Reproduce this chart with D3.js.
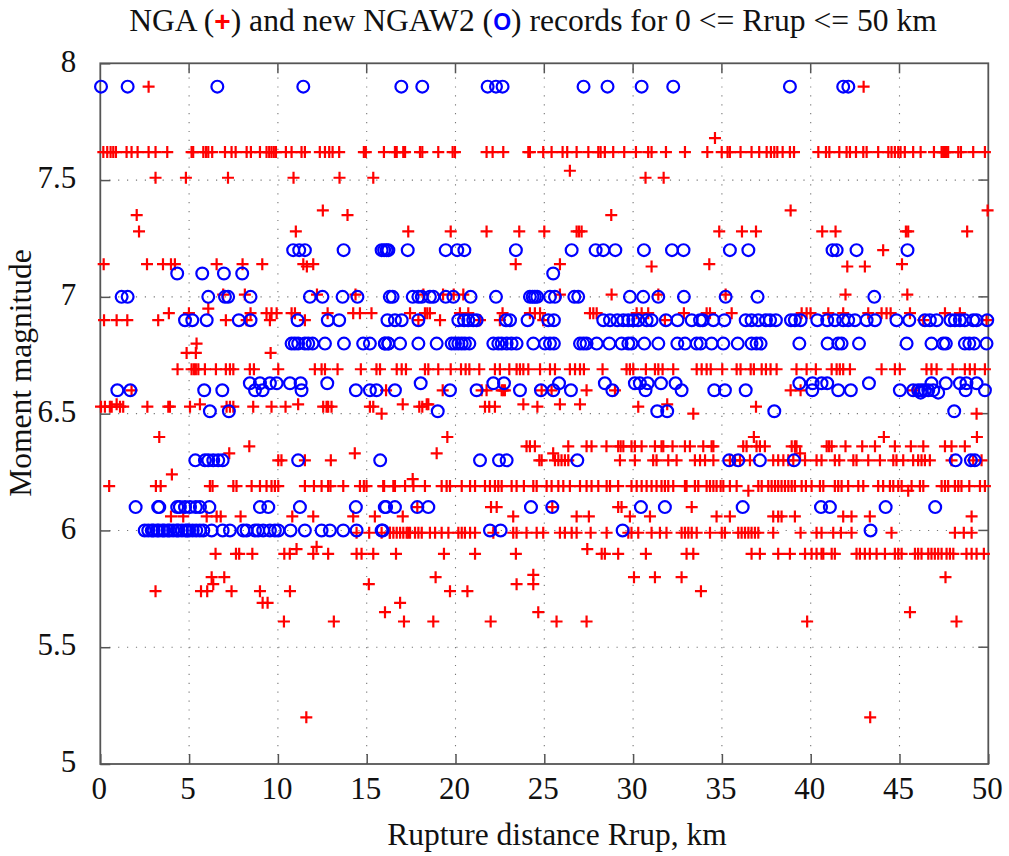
<!DOCTYPE html>
<html><head><meta charset="utf-8">
<script src="https://cdn.jsdelivr.net/npm/d3@7/dist/d3.min.js"></script>
<style>html,body{margin:0;padding:0;background:#fff}svg{display:block}text{font-family:"Liberation Serif",serif;fill:#111}</style>
</head><body><svg id="c" width="1009" height="856"></svg>
<script>
const xTicks=[0,5,10,15,20,25,30,35,40,45,50];
const yTicks=[5,5.5,6,6.5,7,7.5,8];
const yTickLabels=["5","5.5","6","6.5","7","7.5","8"];
const titleParts=[["NGA (","#111"],["+","#f00"],[") and new NGAW2 (","#111"],["O","#00f"],[") records for 0 <= Rrup <= 50 km","#111"]];
const xLabel="Rupture distance Rrup, km";
const yLabel="Moment magnitude";

// NGA records: [magnitude, [distances]]
const ngaRows=[
[7.9,[2.72,42.98]],
[7.68,[34.61]],
[7.62,[.17,.39,.58,.73,.88,1.48,1.76,2.1,2.72,3.11,3.77,5.14,5.23,5.8,5.95,6.08,6.3,7.02,7.39,7.62,8.24,8.48,8.99,9.36,9.51,9.64,9.77,9.89,10.45,10.77,11.33,11.52,12.36,12.65,12.89,13.08,13.45,14.84,14.95,15.97,16.59,16.69,17.06,17.16,18.0,18.13,19.03,19.84,19.97,21.75,22.09,22.69,24.1,24.19,24.94,25.41,26.03,26.29,26.82,27.48,28.04,28.17,28.41,28.88,29.5,30.16,30.85,31.04,31.85,32.92,34.18,34.99,35.32,35.45,36.05,36.67,37.1,37.52,37.76,37.95,38.12,38.42,38.83,39.06,40.43,40.86,41.05,41.61,42.02,42.21,42.55,42.96,43.15,43.8,44.37,44.55,44.74,44.93,45.06,45.3,45.77,46.19,46.94,47.37,47.46,47.56,47.65,47.74,48.31,48.46,49.15,49.81]],
[7.54,[26.44]],
[7.51,[3.11,4.82,7.19,10.88,13.47,15.37,30.7,31.72]],
[7.37,[12.53,38.87,49.96]],
[7.35,[2.05,13.92,28.77]],
[7.28,[2.18,11.01,17.34,19.73,21.75,23.59,25.0,26.82,26.95,27.1,34.85,36.13,36.92,40.65,41.4,45.36,45.49,48.81]],
[7.2,[44.08]],
[7.14,[.19,2.63,3.53,3.98,4.2,6.55,8.01,9.12,11.43,11.99,23.39,25.88,34.29,45.14]],
[7.13,[11.63,31.04,42.06,43.05]],
[7.01,[6.92,8.14,12.2,14.37,18.19,19.3,19.9,20.44,25.88,28.79,31.42,35.21,41.96,45.44]],
[6.93,[3.86,4.99,8.46,9.36,9.64,9.93,10.77,10.96,12.8,14.24,14.62,15.27,17.44,18.28,18.41,18.56,20.25,20.72,22.65,24.19,24.47,24.76,27.57,27.76,27.95,30.2,30.48,30.85,32.86,34.14,34.33,35.55,39.49,39.77,39.99,40.99,41.83,43.24,43.99,44.27,44.5,45.59,47.56,48.4]],
[6.95,[6.08]],
[6.9,[.21,.92,1.52,3.26,7.07,8.24,9.55,11.52,17.91,19.13,21.38,22.5,24.94,31.79,46.34,49.9]],
[6.8,[5.42]],
[6.76,[4.86,5.38,9.59]],
[6.69,[4.35,5.14,5.27,5.38,5.52,5.89,6.51,7.07,7.3,7.49,8.42,8.65,10.02,12.08,12.46,12.65,13.36,14.67,15.55,15.75,16.69,16.97,17.21,18.28,18.47,19.03,19.73,20.31,20.57,20.78,21.34,22.22,22.5,23.03,23.44,23.63,23.82,24.1,24.76,25.32,25.6,26.44,26.73,27.01,27.23,28.28,29.63,29.82,30.01,30.72,31.23,31.42,31.66,32.26,33.58,33.86,34.14,34.37,35.02,35.83,36.05,36.62,36.8,37.24,37.48,37.74,38.08,39.2,39.77,40.29,41.18,41.46,41.64,41.83,42.21,43.99,44.74,45.02,46.52,46.8,47.09,47.99,48.68,48.96,49.24,49.81]],
[6.6,[1.76,16.09,19.28,21.47,21.75,22.6,22.69,22.78,24.85,25.41,27.38,28.98,38.87,39.43,45.8]],
[6.54,[.92,5.61,11.14,17.03,18.38,18.47,23.82,25.88,27.01,31.92]],
[6.53,[.04,.26,.54,.64,1.11,1.29,2.65,3.83,3.92,5.05,7.11,7.3,7.49,8.61,9.64,10.43,12.55,12.74,12.83,13.02,15.18,15.37,17.96,18.13,21.66,21.9,22.22,24.61,30.29,36.92]],
[6.5,[15.84,33.39,49.34]],
[6.4,[3.32,19.54,36.8,44.12,49.36]],
[6.36,[8.39,24.0,24.19,24.47,26.35,27.38,27.66,28.5,29.16,29.3,29.45,29.91,30.1,30.48,31.23,31.6,31.7,32.22,32.92,33.2,33.95,34.42,34.52,36.2,36.39,36.95,37.14,37.42,38.93,39.11,39.2,40.9,41.03,41.18,41.96,42.9,43.62,44.74,45.64,46.34,47.56,47.93,48.68]],
[6.33,[7.26,14.33,18.94,25.5,39.4]],
[6.3,[10.02,10.2,11.52,12.98,24.72,24.85,25.6,25.79,25.97,26.16,26.35,29.26,30.1,31.13,31.32,31.98,32.45,33.48,33.77,34.05,34.52,35.45,35.74,36.02,36.58,37.89,38.17,38.46,38.74,39.02,39.68,40.33,40.61,41.36,41.61,42.4,42.58,43.24,43.9,44.65,44.83,45.21,45.77,46.05,46.24,46.43,46.71,47.93,49.15,49.62]],
[6.24,[4.03]],
[6.22,[17.59]],
[6.19,[.5,3.13,3.4,6.17,6.32,7.49,7.67,8.52,8.99,9.36,9.64,9.83,10.02,11.52,12.03,12.46,12.83,12.96,13.68,14.62,14.84,14.99,15.93,15.98,16.5,16.59,17.16,17.63,18.28,19.22,19.5,19.69,20.35,20.82,21.1,21.66,21.94,22.22,22.41,22.6,23.16,23.44,23.85,24.38,24.57,25.13,25.41,25.79,26.07,26.44,27.01,27.38,27.66,28.04,28.51,28.7,29.16,29.91,30.2,30.48,30.76,31.04,31.32,31.6,31.79,31.98,32.26,33.01,32.92,33.48,33.67,34.14,34.33,34.52,34.7,34.93,35.08,35.45,35.83,37.05,37.24,37.61,37.8,37.99,38.17,38.36,38.55,38.74,38.93,39.11,39.49,39.73,40.05,40.52,40.71,41.36,41.55,41.74,42.11,42.68,42.96,43.8,44.08,44.46,44.65,44.93,45.12,45.68,46.15,46.34,47.37,47.56,47.74,48.12,48.31,48.49,48.93,49.53,49.81]],
[6.17,[36.49,45.49]],
[6.1,[17.85,22.0,22.32,25.45,29.16,29.35,33.3]],
[6.06,[3.98,4.67,5.99,6.55,6.78,7.9,10.81,11.99,14.24,15.46,17.03,23.25,26.82,27.51,29.82,30.95,34.7,35.45,37.89,38.17,38.36,39.11,41.83,42.3,43.33,49.06]],
[5.99,[14.43,15.14,15.84,16.3,16.31,16.5,16.69,16.88,17.06,17.25,17.34,17.44,17.72,17.91,18.1,18.56,18.85,19.22,19.6,20.16,20.35,20.53,20.82,21.1,22.13,23.25,23.44,24.0,24.57,24.94,25.88,26.16,26.54,26.82,27.61,28.51,29.73,29.91,30.29,31.04,31.51,31.88,32.73,32.92,33.11,33.3,33.58,34.33,34.99,35.17,35.92,36.11,36.3,36.49,36.67,36.86,37.05,37.89,39.43,40.33,40.61,41.27,41.7,42.3,44.55,48.12,48.62,49.06]],
[5.92,[27.42,11.05]],
[5.9,[6.49,7.64,7.82,8.56,10.36,10.67,11.99,12.83,14.43,14.71,15.37,16.65,19.35,21.1,23.4,28.23,28.41,29.16,30.72,33.01,33.39,36.67,37.14,38.17,38.83,39.68,40.05,40.33,40.61,40.71,41.18,41.36,42.58,42.77,43.05,43.33,43.71,44.18,44.74,44.93,45.12,45.87,46.05,46.24,46.62,46.8,46.99,47.18,47.37,47.65,47.84,48.03,48.77,49.06,49.34,49.75]],
[5.93,[12.18]],
[5.81,[24.38]],
[5.8,[6.27,6.98,18.88,30.05,31.23,32.73,47.59]],
[5.77,[6.36,15.12,23.44,24.38]],
[5.74,[3.11,5.67,6.02,7.39,8.99,10.68,19.69,20.67,33.82]],
[5.69,[9.14,9.42,16.88]],
[5.65,[16.03,24.66,45.59]],
[5.61,[10.34,13.15,17.1,18.75,21.98,25.69,27.38,39.8,48.21]],
[5.2,[11.6,43.35]]
];

// NGAW2 records: [magnitude, [distances]]
const ngaw2Rows=[
[7.9,[.04,1.54,6.59,11.43,16.95,18.13,21.81,22.28,22.65,27.21,28.56,30.48,32.26,38.83,41.83,42.12]],
[7.2,[10.86,11.2,11.52,13.7,15.84,16.12,15.98,16.22,17.31,19.45,20.1,20.5,23.4,26.54,27.89,28.32,29.0,30.61,32.19,32.84,35.45,36.49,41.23,41.46,42.58,45.45]],
[7.1,[4.33,5.74,6.96,7.99,25.5]],
[7.0,[1.2,1.54,6.08,7.02,7.2,8.46,11.8,12.51,13.64,14.48,16.3,16.46,17.59,17.91,18.1,18.56,18.75,19.45,19.88,20.85,22.28,24.19,24.34,24.47,24.6,25.32,25.6,26.69,26.91,29.82,30.57,31.42,32.86,35.21,37.01,43.58]],
[6.9,[4.77,5.18,5.99,7.8,8.46,11.11,12.81,13.45,16.17,16.59,16.97,17.91,20.16,20.48,20.72,21.0,21.19,22.84,23.07,24.06,25.22,25.54,28.32,28.7,29.11,29.45,29.73,30.01,30.29,30.76,31.04,31.85,32.5,33.3,33.77,33.92,34.52,35.14,36.34,36.67,37.05,37.48,37.71,38.04,38.89,39.11,39.43,40.37,40.93,41.36,41.83,42.11,42.49,43.15,43.62,44.83,45.55,46.43,46.71,47.09,47.87,48.12,48.4,48.68,49.15,49.34,49.94]],
[6.8,[10.77,10.95,11.14,11.52,11.71,11.95,12.65,13.72,14.8,15.18,16.02,16.21,16.03,16.22,16.88,17.91,18.94,19.78,19.97,20.16,20.35,20.53,20.78,22.13,22.41,22.6,22.88,23.16,23.44,24.38,25.04,25.32,25.54,27.01,27.2,27.38,27.95,28.66,29.35,29.73,29.91,30.63,31.42,32.49,32.92,33.58,33.8,34.42,35.08,35.89,36.67,36.95,37.18,39.36,40.95,41.55,41.74,42.72,45.4,46.8,47.46,47.61,48.68,48.93,49.2,49.9]],
[6.63,[8.42,8.99,9.55,9.93,10.68,11.28,12.78,18.04,22.13,22.73,25.83,28.41,30.1,30.38,30.82,31.57,32.39,39.36,40.11,40.61,40.93,43.28,46.8,47.61,48.4,48.77,49.34]],
[6.6,[.96,1.69,5.85,6.87,8.71,9.14,11.33,14.39,15.18,15.55,16.59,19.69,21.19,23.63,24.81,25.51,26.5,28.83,30.7,32.73,34.57,35.17,36.34,40.09,41.55,42.26,45.02,45.77,46.05,46.24,46.43,46.62,46.9,48.72,49.81]],
[6.59,[46.19,47.18]],
[6.51,[6.17,7.24,19.0,31.36,31.92,37.95,48.08]],
[6.3,[5.35,5.89,6.08,6.36,6.64,6.89,11.14,15.76,21.38,22.45,22.88,26.86,35.41,35.92,37.14,39.06,48.16,49.02,49.24]],
[6.1,[1.99,3.26,3.32,4.33,4.48,4.77,5.05,5.38,5.61,6.14,8.99,9.46,11.24,14.39,16.02,16.09,16.59,17.85,18.47,24.25,25.45,30.44,31.79,36.17,40.58,41.08,44.22,47.01]],
[6.0,[2.5,2.7,2.9,3.0,3.2,3.3,3.5,3.6,3.8,3.9,4.1,4.3,4.4,4.6,4.8,4.9,5.0,5.2,5.4,5.6,5.8,6.27,6.89,7.3,8.05,8.24,8.71,8.89,9.17,9.55,9.83,10.02,10.71,11.52,12.46,12.93,13.68,14.43,15.84,15.9,21.94,22.54,29.41,43.37]]
];

const W=1009,H=856,L=100.3,R=988.3,T=63.3,B=764;
const x=d3.scaleLinear().domain([0,50]).range([L,R]);
const y=d3.scaleLinear().domain([5,8]).range([B,T]);
const svg=d3.select("#c");
const ink="#555";

// grid
const grid=svg.append("g").attr("stroke","#777").attr("stroke-width",1.1).attr("stroke-dasharray","1.2 7.7");
grid.selectAll("line.gx").data(xTicks.slice(1,-1)).join("line").attr("x1",d=>x(d)).attr("x2",d=>x(d)).attr("y1",B).attr("y2",T);
grid.selectAll("line.gy").data(yTicks.slice(1,-1)).join("line").attr("x1",L).attr("x2",R).attr("y1",d=>y(d)).attr("y2",d=>y(d));

// axes
const gx=svg.append("g").attr("transform",`translate(0,${B})`).call(d3.axisBottom(x).tickValues(xTicks).tickSize(-10).tickPadding(13).tickFormat(d3.format("d")));
const gy=svg.append("g").attr("transform",`translate(${L},0)`).call(d3.axisLeft(y).tickValues(yTicks).tickSize(-10).tickPadding(24).tickFormat((d,i)=>yTickLabels[i]));
gx.selectAll("text").style("font-size","31px").attr("dx","-1.5");
gy.selectAll("text").style("font-size","31px").attr("dy","0.25em");
[gx,gy].forEach(g=>{g.select(".domain").remove();g.selectAll("line").attr("stroke",ink).attr("stroke-width",1.5);g.selectAll("text").attr("fill","#111")});
// right-side and top ticks mirror the left and bottom ones
svg.append("g").selectAll("line").data(yTicks.slice(1,-1)).join("line").attr("x1",R-10).attr("x2",R).attr("y1",d=>y(d)).attr("y2",d=>y(d)).attr("stroke",ink).attr("stroke-width",1.5);
svg.append("g").selectAll("line").data(xTicks.slice(1,-1)).join("line").attr("x1",d=>x(d)).attr("x2",d=>x(d)).attr("y1",T).attr("y2",T+10).attr("stroke",ink).attr("stroke-width",1.5);
svg.append("rect").attr("x",L).attr("y",T).attr("width",R-L).attr("height",B-T).attr("fill","none").attr("stroke",ink).attr("stroke-width",1.8);

// marks
const nga=ngaRows.flatMap(([m,ds])=>ds.map(d=>({d,m})));
const ngaw2=ngaw2Rows.flatMap(([m,ds])=>ds.map(d=>({d,m})));
const plus=6;
svg.append("g").selectAll("path").data(nga).join("path")
 .attr("transform",d=>`translate(${x(d.d)},${y(d.m)})`)
 .attr("d",`M${-plus},0H${plus}M0,${-plus}V${plus}`)
 .attr("stroke","#f00").attr("stroke-width",2.2).attr("fill","none");
svg.append("g").selectAll("circle").data(ngaw2).join("circle")
 .attr("cx",d=>x(d.d)).attr("cy",d=>y(d.m)).attr("r",5.9)
 .attr("fill","none").attr("stroke","#00f").attr("stroke-width",2.2);

// text
const t=svg.append("text").attr("x",533).attr("y",31).attr("text-anchor","middle").style("font-size","31.6px");
titleParts.forEach(([s,c])=>{
  const sp=t.append("tspan").text(s).style("fill",c);
  if(s==="+") sp.style("font-family",'"Liberation Sans",sans-serif').style("font-weight","bold").style("font-size","28px");
  if(s==="O") sp.style("font-family",'"Liberation Sans",sans-serif').style("font-weight","bold").style("font-size","23px").attr("dy","-1");
  if(s.startsWith(") records")) sp.attr("dy","1");
});
svg.append("text").attr("x",557).attr("y",845).attr("text-anchor","middle").style("font-size","31.5px").text(xLabel);
svg.append("text").attr("transform","translate(31,373) rotate(-90)").attr("text-anchor","middle").style("font-size","31.5px").text(yLabel);
</script></body></html>
